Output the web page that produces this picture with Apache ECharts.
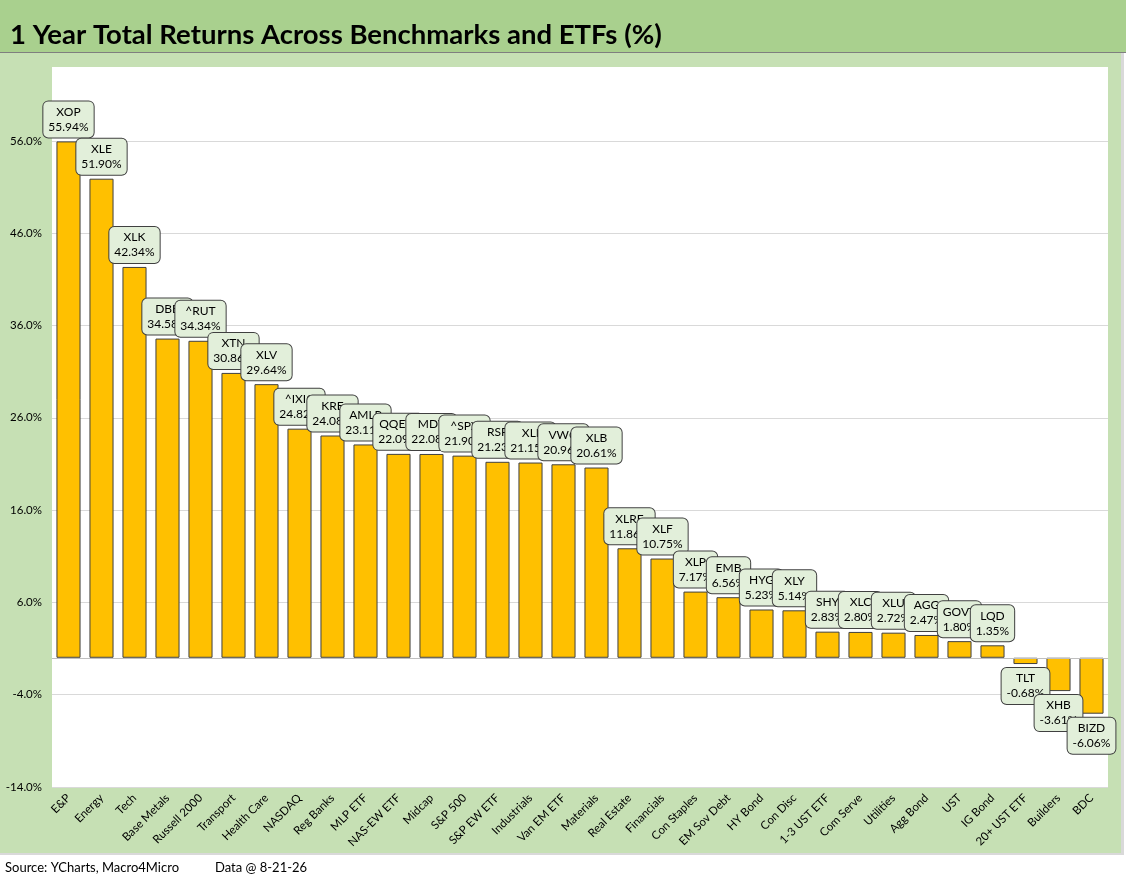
<!DOCTYPE html>
<html>
<head>
<meta charset="utf-8">
<script src="https://cdn.jsdelivr.net/npm/echarts@6/dist/echarts.min.js"></script>
<style>
  html, body { margin: 0; padding: 0; background: #fff; }
  #chart { width: 1126px; height: 885px; }
</style>
</head>
<body>
<div id="chart"></div>
<script>
// categories along the x axis
const categories = ['E&P', 'Energy', 'Tech', 'Base Metals', 'Russell 2000', 'Transport', 'Health Care',
    'NASDAQ', 'Reg Banks', 'MLP ETF', 'NAS-EW ETF', 'Midcap', 'S&P 500', 'S&P EW ETF', 'Industrials',
    'Van EM ETF', 'Materials', 'Real Estate', 'Financials', 'Con Staples', 'EM Sov Debt', 'HY Bond',
    'Con Disc', '1-3 UST ETF', 'Com Serve', 'Utilities', 'Agg Bond', 'UST', 'IG Bond', '20+ UST ETF',
    'Builders', 'BDC']

// ticker shown in each label box
const tickers = ['XOP', 'XLE', 'XLK', 'DBB', '^RUT', 'XTN', 'XLV', '^IXIC', 'KRE', 'AMLP', 'QQEW', 'MDY',
    '^SPX', 'RSP', 'XLI', 'VWO', 'XLB', 'XLRE', 'XLF', 'XLP', 'EMB', 'HYG', 'XLY', 'SHY', 'XLC', 'XLU',
    'AGG', 'GOVT', 'LQD', 'TLT', 'XHB', 'BIZD']

// 1 year total return, %
const returns = [55.94, 51.90, 42.34, 34.58, 34.34, 30.86, 29.64, 24.82, 24.08, 23.11, 22.09, 22.08,
    21.90, 21.23, 21.15, 20.96, 20.61, 11.86, 10.75, 7.17, 6.56, 5.23, 5.14, 2.83, 2.80, 2.72,
    2.47, 1.80, 1.35, -0.68, -3.61, -6.06]

const font = 'Lato'

let myChart = echarts.init(document.getElementById('chart'))

let option = {
    animation: false,
    backgroundColor: '#fff',
    textStyle: { fontFamily: font },
    title: {
        text: '1 Year Total Returns Across Benchmarks and ETFs (%)',
        left: 5,
        top: 16,
        textStyle: { fontFamily: font, fontSize: 27.5, fontWeight: 'bold', color: '#000' }
    },
    graphic: [
        // title band
        { type: 'rect', z: -10, shape: { x: 0, y: 0, width: 1126, height: 52 }, style: { fill: '#a9d08e' } },
        { type: 'rect', z: -10, shape: { x: 0, y: 52, width: 1126, height: 1 }, style: { fill: '#7f7f7f' } },
        // chart area
        { type: 'rect', z: -10, shape: { x: 0, y: 53, width: 1121, height: 800 }, style: { fill: '#c6e0b4' } },
        { type: 'rect', z: -10, shape: { x: 1121, y: 53, width: 3, height: 802 }, style: { fill: '#d9d9d9' } },
        { type: 'rect', z: -10, shape: { x: 0, y: 853, width: 1124, height: 2 }, style: { fill: '#d9d9d9' } },
        // footer
        { type: 'text', left: 5, top: 861, style: { text: 'Source: YCharts, Macro4Micro', fontSize: 13, fontFamily: font, fill: '#000' } },
        { type: 'text', left: 215, top: 861, style: { text: 'Data @ 8-21-26', fontSize: 13, fontFamily: font, fill: '#000' } }
    ],
    grid: {
        left: 52, right: 18, top: 67, bottom: 98,
        show: true, backgroundColor: '#fff', borderWidth: 0
    },
    xAxis: {
        type: 'category',
        data: categories,
        axisLine: { show: false, onZero: false },
        axisTick: { show: false },
        axisLabel: { interval: 0, rotate: 45, fontSize: 11.5, color: '#000', margin: 9, fontFamily: font }
    },
    yAxis: {
        type: 'value',
        min: -14,
        max: 64,
        interval: 10,
        axisLine: { show: false },
        axisTick: { show: false },
        axisLabel: {
            fontSize: 11.5, color: '#000', margin: 10, fontFamily: font, showMaxLabel: false,
            formatter: v => v.toFixed(1) + '%'
        },
        splitLine: { showMaxLine: false, lineStyle: { color: '#d9d9d9', width: 1 } }
    },
    series: [{
        type: 'bar',
        barCategoryGap: '27%',
        data: returns.map(v => ({
            value: v,
            label: { position: v < 0 ? 'bottom' : 'top' }
        })),
        itemStyle: { color: '#ffc000', borderColor: '#404040', borderWidth: 1 },
        label: {
            show: true,
            distance: 4,
            fontSize: 12,
            fontFamily: font,
            color: '#000',
            lineHeight: 15,
            backgroundColor: '#e2efda',
            borderColor: '#404040',
            borderWidth: 1,
            borderRadius: 5,
            padding: [3, 5],
            formatter: p => tickers[p.dataIndex] + '\n' + p.value.toFixed(2) + '%'
        },
        markLine: {
            silent: true,
            symbol: 'none',
            label: { show: false },
            lineStyle: { color: '#bfbfbf', type: 'solid', width: 1 },
            data: [{ yAxis: 0 }]
        }
    }]
}

myChart.setOption(option)
window.addEventListener('resize', function () {
    myChart.resize()
})
</script>
</body>
</html>
